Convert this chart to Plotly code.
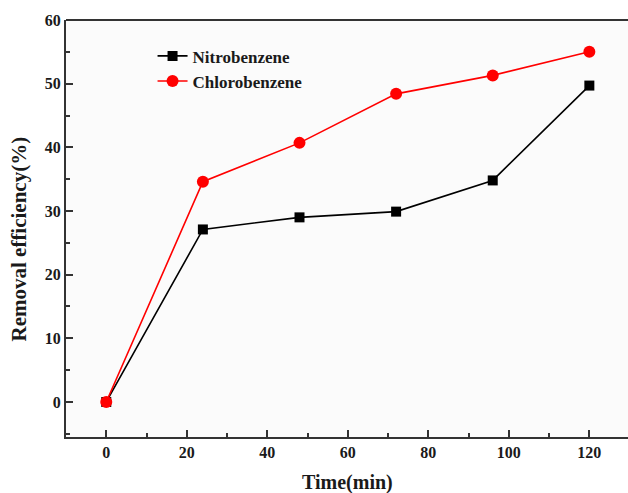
import plotly.graph_objects as go

time_min = [0, 24, 48, 72, 96, 120]
nitrobenzene = [0, 27.1, 29.0, 29.9, 34.8, 49.7]
chlorobenzene = [0, 34.6, 40.7, 48.4, 51.3, 55.0]

FONT = "Liberation Serif"
INK = "#1a1a1a"

fig = go.Figure()
fig.add_trace(go.Scatter(
    x=time_min, y=nitrobenzene, name="Nitrobenzene", mode="lines+markers",
    line=dict(color="black", width=1.6),
    marker=dict(symbol="square", size=10, color="black"),
))
fig.add_trace(go.Scatter(
    x=time_min, y=chlorobenzene, name="Chlorobenzene", mode="lines+markers",
    line=dict(color="#ff0000", width=1.6),
    marker=dict(symbol="circle", size=12, color="#ff0000"),
))

axis_common = dict(
    showline=True, linecolor="#333333", linewidth=2,
    ticks="inside", ticklen=7, tickwidth=2, tickcolor="#333333",
    showgrid=False, zeroline=False, automargin=False,
    tickfont=dict(family=FONT, size=16, color=INK, weight="bold"),
)

fig.update_layout(
    width=628, height=493,
    margin=dict(l=66, r=0, t=20, b=56),
    paper_bgcolor="white", plot_bgcolor="#fbfbfb",
    font=dict(family=FONT, color=INK),
    showlegend=True,
    legend=dict(
        x=0.154, y=0.956, xanchor="left", yanchor="top",
        bgcolor="rgba(0,0,0,0)",
        font=dict(family=FONT, size=17, color=INK, weight="bold"),
        itemwidth=30, tracegroupgap=0,
    ),
    xaxis=dict(
        range=[-10, 129.6], tickvals=[0, 20, 40, 60, 80, 100, 120],
        minor=dict(ticks="inside", ticklen=4, tickwidth=2, dtick=10, tick0=0, tickcolor="#333333"),
        **axis_common,
    ),
    yaxis=dict(
        range=[-5.5, 60], tickvals=[0, 10, 20, 30, 40, 50, 60],
        minor=dict(ticks="inside", ticklen=4, tickwidth=2, dtick=5, tick0=0, tickcolor="#333333"),
        **axis_common,
    ),
)
# axis titles
fig.add_annotation(text="Time(min)", xref="paper", yref="paper", x=0.5, y=0,
                   yanchor="middle", xanchor="center", yshift=-45, showarrow=False,
                   font=dict(family=FONT, size=20, color=INK, weight="bold"))
fig.add_annotation(text="Removal efficiency(%)", xref="paper", yref="paper", x=0, y=0.5,
                   xanchor="center", yanchor="middle", xshift=-48, yshift=-11, textangle=-90,
                   showarrow=False,
                   font=dict(family=FONT, size=21, color=INK, weight="bold"))
# top border line
fig.add_shape(type="line", xref="paper", yref="paper", x0=0, x1=1, y0=1, y1=1,
              line=dict(color="#333333", width=2))

fig.write_html("out.html", config={"displayModeBar": False},
               post_script="document.body.style.margin='0';document.body.style.overflow='hidden';")
